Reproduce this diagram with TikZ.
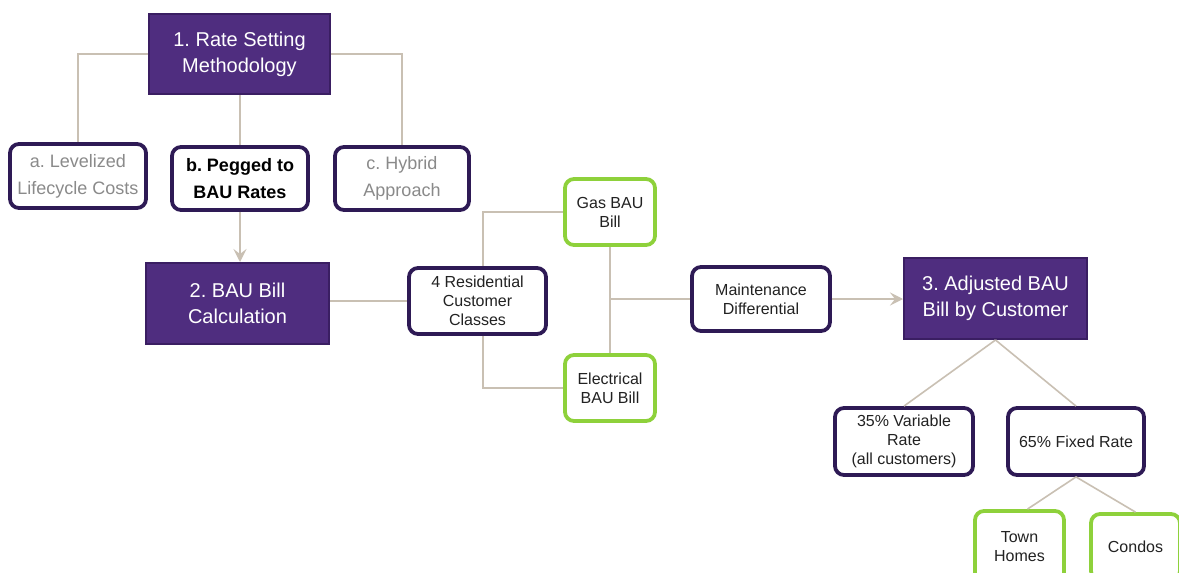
\documentclass[tikz,border=0pt]{standalone}
\usepackage{fontspec}
\setmainfont{Liberation Sans}
\frenchspacing
\usetikzlibrary{arrows.meta}
\definecolor{pfill}{HTML}{4F2D7F}
\definecolor{pedge}{HTML}{3A1E62}
\definecolor{redge}{HTML}{2E1A55}
\definecolor{gedge}{HTML}{8ED13B}
\definecolor{conn}{HTML}{C9C0B3}
\definecolor{gtext}{HTML}{8A8A8A}
\definecolor{dtext}{HTML}{222222}
\tikzset{
  mainbox/.style={draw=pedge, fill=pfill, line width=2pt, text=white, align=center,
    inner sep=0pt, font=\fontsize{20}{26}\selectfont},
  rbox/.style={draw=redge, fill=white, line width=3.8pt, rounded corners=9pt, align=center,
    inner sep=0pt, text=dtext, font=\fontsize{16}{19}\selectfont},
  gbox/.style={rbox, draw=gedge},
  optbox/.style={rbox, font=\fontsize{18}{27}\selectfont},
  link/.style={draw=conn, line width=1.6pt},
  arr/.style={link, -{Stealth[length=13pt,width=13pt,inset=5pt]}},
}
\begin{document}
\begin{tikzpicture}[x=1pt,y=-1pt]
\useasboundingbox (0,0) rectangle (1179,573);
\clip (0,0) rectangle (1179,573);
\fill[white] (0,0) rectangle (1179,573);

\node[mainbox, minimum width=181pt, minimum height=80pt] (m1) at (239.5,54) {1. Rate Setting\\Methodology};
\node[optbox, text=gtext, minimum width=136pt, minimum height=64pt] (a) at (78,176) {a. Levelized\\Lifecycle Costs};
\node[optbox, text=black, minimum width=136pt, minimum height=63pt, font=\fontsize{18}{27}\selectfont\bfseries] (b) at (240,178.5) {b. Pegged to\\BAU Rates};
\node[optbox, text=gtext, minimum width=134pt, minimum height=63pt] (c) at (402,178.5) {c. Hybrid\\Approach};

\node[mainbox, minimum width=183pt, minimum height=81pt] (m2) at (237.5,303.5) {2. BAU Bill\\Calculation};
\node[rbox, minimum width=137pt, minimum height=66pt] (res) at (477.5,301) {4 Residential\\Customer\\Classes};
\node[gbox, minimum width=90pt, minimum height=66pt] (gas) at (610,212) {Gas BAU\\Bill};
\node[gbox, minimum width=90pt, minimum height=66pt] (elec) at (610,388) {Electrical\\BAU Bill};
\node[rbox, minimum width=138pt, minimum height=64pt] (maint) at (761,299) {Maintenance\\Differential};
\node[mainbox, minimum width=183pt, minimum height=81pt] (m3) at (995.5,298.5) {3. Adjusted BAU\\Bill by Customer};

\node[rbox, minimum width=138pt, minimum height=67pt] (var) at (904,441.5) {35\% Variable\\Rate\\(all customers)};
\node[rbox, minimum width=136pt, minimum height=67pt] (fix) at (1076,441.5) {65\% Fixed Rate};
\node[gbox, minimum width=89pt, minimum height=72pt] (town) at (1019.5,547) {Town\\Homes};
\node[gbox, minimum width=89pt, minimum height=66pt] (condo) at (1135.5,547) {Condos};

\draw[link] (m1.west) -| (a.north);
\draw[link] (b.north |- m1.south) -- (b.north);
\draw[link] (m1.east) -| (c.north);
\draw[arr] (b.south) -- (b.south |- m2.north);
\draw[link] (res.west -| m2.east) -- (res.west);
\draw[link] ([xshift=5.5pt]res.north) |- (gas.west);
\draw[link] ([xshift=5.5pt]res.south) |- (elec.west);
\draw[link] (gas.south) -- (elec.north);
\coordinate (j) at (gas.south |- maint.west);
\draw[link] (j) -- (maint.west);
\draw[arr] (maint.east) -- (m3.west |- maint.east);
\draw[link] (m3.south) -- (var.north);
\draw[link] (m3.south) -- (fix.north);
\draw[link] (fix.south) -- ([xshift=8pt]town.north);
\draw[link] (fix.south) -- (condo.north);
\end{tikzpicture}
\end{document}
